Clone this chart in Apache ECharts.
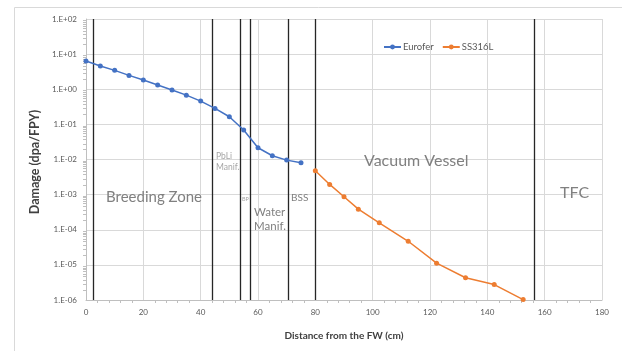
<!DOCTYPE html>
<html>
<head>
<meta charset="utf-8">
<script src="https://cdn.jsdelivr.net/npm/echarts@6/dist/echarts.min.js"></script>
<style>
  html, body { margin: 0; padding: 0; background: #fff; }
  #chart { width: 622px; height: 351px; }
</style>
</head>
<body>
<div id="chart"></div>
<script>
// Eurofer (blanket steel)
const eurX = [0, 5, 10, 15, 20, 25, 30, 35, 40, 45, 50, 55, 60, 65, 70, 75];
const eurY = [6.4, 4.6, 3.45, 2.48, 1.83, 1.32, 0.95, 0.68, 0.46, 0.285, 0.165, 0.069, 0.0216, 0.0128, 0.0096, 0.0081];

// SS316L (vacuum vessel)
const ssX = [80, 85, 90, 95, 102.3, 112.4, 122.3, 132.4, 142.4, 152.5];
const ssY = [0.0048, 0.00195, 0.00087, 0.000386, 0.000158, 4.7e-5, 1.12e-5, 4.3e-6, 2.75e-6, 1.03e-6];

// region borders (cm)
const borders = [2.5, 44.2, 53.7, 57.4, 70.7, 80, 156.4];

const xTicks = [0, 20, 40, 60, 80, 100, 120, 140, 160, 180];

const font = 'Lato, "Liberation Sans", sans-serif';

const chart = echarts.init(document.getElementById('chart'));

const expLabel = v => {
  const e = Math.round(Math.log10(v));
  const a = Math.abs(e);
  return '1.E' + (e < 0 ? '-' : '+') + (a < 10 ? '0' : '') + a;
};

const toPairs = (xs, ys) => xs.map((x, i) => [x, ys[i]]);

// region labels, drawn above the grid
const note = (left, top, text, size, color, lineHeight) => ({
  type: 'text', left, top, z: 100,
  style: { text, fontSize: size, fill: color, fontFamily: font, lineHeight: lineHeight || size * 1.2 }
});

chart.setOption({
  animation: false,
  textStyle: { fontFamily: font },
  grid: { left: 86, right: 20, top: 19, bottom: 51 },
  legend: {
    left: 378, top: 37,
    itemWidth: 17, itemHeight: 6, itemGap: 8,
    textStyle: { fontSize: 9.5, color: '#595959', padding: [0, 0, 0, -3] },
    data: ['Eurofer', 'SS316L']
  },
  xAxis: {
    type: 'value',
    min: xTicks[0], max: xTicks[xTicks.length - 1], interval: 20,
    name: 'Distance from the FW (cm)',
    nameLocation: 'middle', nameGap: 31,
    nameTextStyle: { fontSize: 10, fontWeight: 'bold', color: '#404040' },
    axisLine: { lineStyle: { color: '#bfbfbf' } },
    axisTick: { show: false },
    minorTick: { show: true, splitNumber: 5, length: 3, lineStyle: { color: '#bfbfbf' } },
    axisLabel: { fontSize: 8, color: '#595959', margin: 8 },
    splitLine: { lineStyle: { color: '#d9d9d9' } }
  },
  yAxis: {
    type: 'log', logBase: 10,
    min: 1e-6, max: 100,
    name: 'Damage (dpa/FPY)',
    nameLocation: 'middle', nameGap: 42,
    nameTextStyle: { fontSize: 12.5, fontWeight: 'bold', color: '#404040', padding: [0, 0, 0, -5] },
    axisLine: { show: true, lineStyle: { color: '#bfbfbf' } },
    axisTick: { show: false },
    minorTick: { show: true, splitNumber: 10, length: 3, lineStyle: { color: '#bfbfbf' } },
    axisLabel: { fontSize: 8, color: '#595959', margin: 9, formatter: expLabel },
    splitLine: { lineStyle: { color: '#d9d9d9' } }
  },
  series: [
    {
      name: 'Eurofer', type: 'line',
      data: toPairs(eurX, eurY),
      symbol: 'circle', symbolSize: 5,
      itemStyle: { color: '#4472c4' },
      lineStyle: { width: 1.5, color: '#4472c4' },
      z: 5
    },
    {
      name: 'SS316L', type: 'line',
      data: toPairs(ssX, ssY),
      symbol: 'circle', symbolSize: 5,
      itemStyle: { color: '#ed7d31' },
      lineStyle: { width: 1.5, color: '#ed7d31' },
      z: 5,
      markLine: {
        silent: true, symbol: 'none',
        label: { show: false },
        lineStyle: { color: '#262626', width: 1.3, type: 'solid' },
        data: borders.map(b => ({ xAxis: b }))
      }
    }
  ],
  graphic: [
    { type: 'rect', left: 12, top: 5, shape: { width: 640, height: 400 },
      style: { fill: 'none', stroke: '#d9d9d9', lineWidth: 1 }, silent: true },
    note(106, 188, 'Breeding Zone', 15, '#808080'),
    note(216, 151, 'PbLi\nManif.', 8.5, '#a6a6a6', 10.6),
    note(242, 196, 'BP', 5.5, '#a6a6a6'),
    note(254, 206, 'Water\nManif.', 11.5, '#808080', 13.4),
    note(291, 192, 'BSS', 10, '#808080'),
    note(364, 151, 'Vacuum Vessel', 16, '#808080'),
    note(560, 183, 'TFC', 16, '#808080')
  ]
});
</script>
</body>
</html>
